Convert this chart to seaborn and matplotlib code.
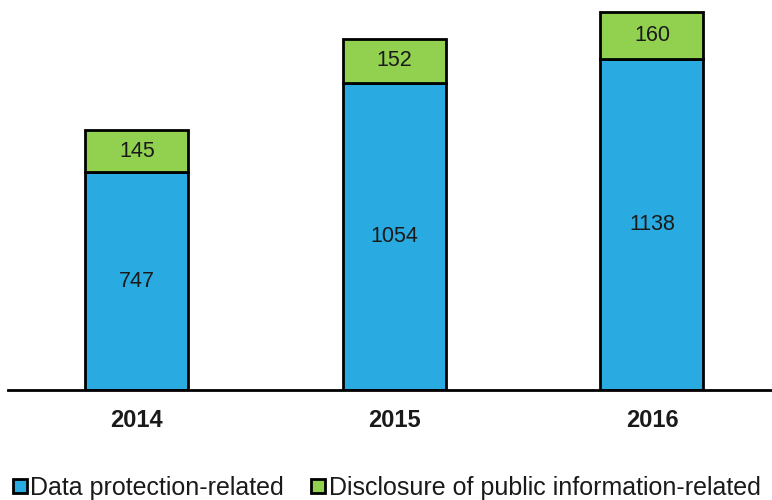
import matplotlib
matplotlib.use("Agg")
import matplotlib.pyplot as plt
from matplotlib.lines import Line2D
import seaborn as sns
import pandas as pd

years = ["2014", "2015", "2016"]
data_protection = [747, 1054, 1138]
public_information = [145, 152, 160]
series_names = ["Data protection-related", "Disclosure of public information-related"]

BLUE = "#29abe2"
GREEN = "#92d050"

sns.set_theme(style="white")
plt.rcParams["font.family"] = ["Liberation Sans", "DejaVu Sans"]

fig = plt.figure(figsize=(7.72, 5.0), dpi=100)
ax = fig.add_axes([8 / 772, 110 / 500, 764 / 772, 390 / 500])

df = pd.DataFrame({"year": years, "dp": data_protection, "pi": public_information})

sns.barplot(data=df, x="year", y="dp", color=BLUE, width=0.4,
            edgecolor="black", linewidth=2, saturation=1, ax=ax)
ax.bar(range(len(years)), public_information, bottom=data_protection, width=0.4,
       color=GREEN, edgecolor="black", linewidth=2)

for i, (a, b) in enumerate(zip(data_protection, public_information)):
    ax.text(i, a / 2, f"{a}", ha="center", va="center", fontsize=15.5, color="#1a1a1a")
    ax.text(i, a + b / 2, f"{b}", ha="center", va="center", fontsize=15.5, color="#1a1a1a")

ax.set_xlim(-0.5, 2 + 120 / 257.5)
ax.set_ylim(0, 1339)
ax.set_xlabel("")
ax.set_ylabel("")
ax.set_yticks([])
for s in ["top", "left", "right"]:
    ax.spines[s].set_visible(False)
ax.spines["bottom"].set_color("black")
ax.spines["bottom"].set_linewidth(2)
ax.tick_params(axis="x", length=0, pad=14, labelsize=17)
for lbl in ax.get_xticklabels():
    lbl.set_fontweight("bold")
    lbl.set_color("#1a1a1a")

handles = [
    Line2D([], [], marker="s", linestyle="none", markersize=9.5,
           markerfacecolor=BLUE, markeredgecolor="black", markeredgewidth=2),
    Line2D([], [], marker="s", linestyle="none", markersize=9.5,
           markerfacecolor=GREEN, markeredgecolor="black", markeredgewidth=2),
]
fig.legend(handles, series_names, loc="lower left", bbox_to_anchor=(-0.003, -0.03),
           ncol=2, frameon=False, fontsize=18, handlelength=0.55,
           handletextpad=0.15, columnspacing=1.1, borderaxespad=0.2,
           labelcolor="#1a1a1a")

fig.savefig("out.png", dpi=100)
